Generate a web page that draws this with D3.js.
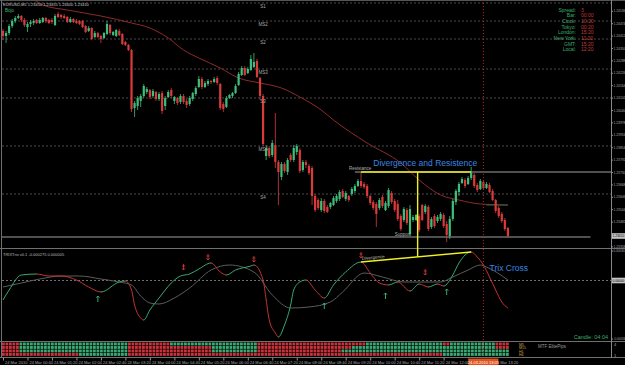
<!DOCTYPE html>
<html>
<head>
<meta charset="utf-8">
<script src="https://cdn.jsdelivr.net/npm/d3@7"></script>
<style>
  body { margin: 0; background: #000; }
  svg { display: block; font-family: "Liberation Sans", Arial, sans-serif; }
</style>
</head>
<body>
<svg id="chart" width="625" height="365"></svg>
<script>
// EURUSD M5 bars
const openP = [
  1.24435,1.24410,1.24425,1.24460,1.24485,1.24500,1.24510,1.24490,1.24455,1.24470,
  1.24475,1.24490,1.24475,1.24480,1.24500,1.24490,1.24490,1.24465,1.24520,1.24515,
  1.24510,1.24505,1.24480,1.24495,1.24485,1.24485,1.24485,1.24460,1.24435,1.24450,
  1.24405,1.24425,1.24410,1.24400,1.24420,1.24465,1.24415,1.24410,1.24435,1.24420,
  1.24380,1.24365,1.24340,1.24050,1.24060,1.24085,1.24110,1.24130,1.24140,1.24110,
  1.24130,1.24095,1.24125,1.24060,1.24105,1.24140,1.24085,1.24100,1.24080,1.24110,
  1.24085,1.24070,1.24095,1.24120,1.24155,1.24195,1.24155,1.24170,1.24185,1.24180,
  1.24200,1.24170,1.24070,1.24055,1.24100,1.24110,1.24125,1.24165,1.24215,1.24250,
  1.24225,1.24240,1.24255,1.24285,1.24200,1.24110,1.23810,1.23850,1.23815,1.23865,
  1.23780,1.23705,1.23770,1.23730,1.23815,1.23790,1.23830,1.23840,1.23740,1.23780,
  1.23760,1.23750,1.23610,1.23590,1.23540,1.23585,1.23555,1.23555,1.23565,1.23585,
  1.23595,1.23635,1.23595,1.23610,1.23620,1.23635,1.23660,1.23685,1.23670,1.23660,
  1.23610,1.23580,1.23570,1.23550,1.23605,1.23540,1.23560,1.23625,1.23585,1.23570,
  1.23510,1.23490,1.23540,1.23420,1.23490,1.23490,1.23510,1.23565,1.23530,1.23555,
  1.23455,1.23510,1.23485,1.23495,1.23515,1.23470,1.23410,1.23495,1.23580,1.23630,
  1.23675,1.23690,1.23670,1.23700,1.23715,1.23665,1.23645,1.23680,1.23650,1.23665,
  1.23635,1.23590,1.23550,1.23520,1.23490,1.23450
];
const highP = [
  1.24445,1.24435,1.24470,1.24495,1.24510,1.24520,1.24515,1.24500,1.24480,1.24490,
  1.24495,1.24495,1.24500,1.24505,1.24505,1.24495,1.24500,1.24520,1.24530,1.24520,
  1.24520,1.24510,1.24505,1.24500,1.24495,1.24490,1.24490,1.24465,1.24460,1.24455,
  1.24435,1.24430,1.24415,1.24430,1.24485,1.24470,1.24435,1.24445,1.24445,1.24425,
  1.24385,1.24370,1.24345,1.24085,1.24110,1.24120,1.24170,1.24155,1.24145,1.24145,
  1.24135,1.24130,1.24135,1.24110,1.24140,1.24150,1.24110,1.24105,1.24120,1.24120,
  1.24095,1.24110,1.24130,1.24160,1.24210,1.24205,1.24185,1.24195,1.24190,1.24205,
  1.24210,1.24175,1.24080,1.24110,1.24120,1.24130,1.24170,1.24230,1.24260,1.24260,
  1.24255,1.24315,1.24325,1.24295,1.24205,1.24120,1.23865,1.23860,1.23890,1.24025,
  1.23790,1.23780,1.23780,1.23800,1.23825,1.23865,1.23870,1.23850,1.23790,1.23790,
  1.23770,1.23760,1.23620,1.23600,1.23600,1.23595,1.23565,1.23580,1.23610,1.23620,
  1.23640,1.23645,1.23635,1.23615,1.23655,1.23670,1.23695,1.23730,1.23680,1.23670,
  1.23615,1.23590,1.23580,1.23600,1.23615,1.23585,1.23650,1.23635,1.23595,1.23590,
  1.23520,1.23555,1.23550,1.23565,1.23515,1.23520,1.23520,1.23570,1.23570,1.23565,
  1.23505,1.23520,1.23515,1.23530,1.23525,1.23485,1.23510,1.23595,1.23645,1.23680,
  1.23705,1.23700,1.23710,1.23755,1.23725,1.23675,1.23695,1.23690,1.23680,1.23675,
  1.23645,1.23595,1.23560,1.23530,1.23500,1.23455
];
const lowP = [
  1.24390,1.24375,1.24415,1.24450,1.24475,1.24495,1.24480,1.24455,1.24430,1.24455,
  1.24465,1.24470,1.24470,1.24475,1.24475,1.24470,1.24470,1.24460,1.24500,1.24495,
  1.24495,1.24475,1.24475,1.24475,1.24470,1.24465,1.24450,1.24425,1.24430,1.24390,
  1.24400,1.24400,1.24375,1.24395,1.24415,1.24415,1.24410,1.24405,1.24410,1.24365,
  1.24360,1.24335,1.24030,1.24005,1.24040,1.24055,1.24100,1.24120,1.24095,1.24100,
  1.24085,1.24085,1.24020,1.24040,1.24100,1.24100,1.24070,1.24065,1.24070,1.24070,
  1.24050,1.24060,1.24085,1.24110,1.24150,1.24145,1.24150,1.24160,1.24170,1.24175,
  1.24165,1.24040,1.24030,1.24050,1.24095,1.24100,1.24120,1.24160,1.24210,1.24210,
  1.24220,1.24235,1.24250,1.24200,1.24090,1.23860,1.23790,1.23800,1.23805,1.23750,
  1.23565,1.23690,1.23725,1.23715,1.23780,1.23780,1.23815,1.23725,1.23730,1.23750,
  1.23715,1.23565,1.23530,1.23540,1.23530,1.23525,1.23525,1.23545,1.23560,1.23575,
  1.23585,1.23600,1.23585,1.23580,1.23610,1.23625,1.23655,1.23650,1.23645,1.23600,
  1.23565,1.23540,1.23455,1.23540,1.23550,1.23535,1.23550,1.23570,1.23530,1.23485,
  1.23435,1.23480,1.23465,1.23410,1.23480,1.23485,1.23430,1.23485,1.23520,1.23435,
  1.23445,1.23450,1.23475,1.23485,1.23450,1.23380,1.23395,1.23485,1.23565,1.23610,
  1.23670,1.23650,1.23665,1.23690,1.23650,1.23630,1.23640,1.23640,1.23645,1.23625,
  1.23585,1.23525,1.23500,1.23475,1.23435,1.23400
];
const closeP = [
  1.24410,1.24425,1.24460,1.24485,1.24500,1.24510,1.24490,1.24465,1.24470,1.24480,
  1.24485,1.24475,1.24490,1.24500,1.24485,1.24475,1.24480,1.24510,1.24505,1.24505,
  1.24500,1.24480,1.24495,1.24480,1.24475,1.24470,1.24455,1.24430,1.24450,1.24395,
  1.24425,1.24405,1.24395,1.24425,1.24470,1.24425,1.24430,1.24440,1.24415,1.24370,
  1.24365,1.24340,1.24045,1.24075,1.24100,1.24110,1.24160,1.24145,1.24105,1.24135,
  1.24095,1.24120,1.24035,1.24100,1.24130,1.24110,1.24105,1.24075,1.24110,1.24080,
  1.24065,1.24100,1.24125,1.24150,1.24195,1.24155,1.24175,1.24185,1.24180,1.24195,
  1.24175,1.24050,1.24045,1.24100,1.24115,1.24125,1.24160,1.24220,1.24250,1.24215,
  1.24245,1.24295,1.24280,1.24205,1.24110,1.23870,1.23850,1.23810,1.23875,1.23780,
  1.23730,1.23770,1.23735,1.23790,1.23790,1.23850,1.23860,1.23735,1.23780,1.23765,
  1.23725,1.23610,1.23540,1.23550,1.23585,1.23535,1.23530,1.23575,1.23600,1.23610,
  1.23630,1.23605,1.23625,1.23590,1.23645,1.23660,1.23685,1.23660,1.23655,1.23610,
  1.23575,1.23550,1.23520,1.23590,1.23560,1.23575,1.23640,1.23580,1.23540,1.23495,
  1.23445,1.23545,1.23475,1.23545,1.23505,1.23515,1.23440,1.23490,1.23560,1.23445,
  1.23495,1.23460,1.23505,1.23520,1.23460,1.23415,1.23495,1.23585,1.23635,1.23670,
  1.23695,1.23660,1.23700,1.23725,1.23660,1.23640,1.23685,1.23650,1.23670,1.23630,
  1.23590,1.23535,1.23510,1.23485,1.23445,1.23410
];

// moving average (bar index, price)
const maBars = [9,13,21,32,42,48,54,59,64,71,77,84,91,97,104,108,119,130,136,143,149,156,165];
const maVals = [1.24605,1.24565,1.24540,1.24510,1.24475,1.24450,1.24400,1.24340,1.24300,1.24250,1.24200,
  1.24175,1.24150,1.24105,1.24040,1.23990,1.23875,1.23775,1.23690,1.23615,1.23590,1.23570,1.23565];
const ma2Bars = [158,165];
const ma2Vals = [1.23565,1.23565];

// pivot levels
const pivotNames = ["S1","MS2","S2","MS3","S3","MS4","S4"];
const pivotLevels = [1.24575,1.24485,1.24395,1.24245,1.24100,1.23860,1.23620];

const resistance = 1.23730;
const support = 1.23405;
const bid = 1.23410;

// TRIX and signal (bar index, value)
const trixBars = [0,2,6,11,15,19,24,28,32,38,40,42,43,45,46,48,51,55,58,61,64,68,71,73,76,81,82,85,86,87,
  89,90,92,94,95,97,99,102,105,108,112,117,120,123,126,129,133,136,139,142,144,147,149,153,155,157,159,161,163,165];
const trixVals = [-0.000195,-0.000095,0.000055,0.000065,0.000045,0.000045,0.000005,-0.000065,-0.000115,-0.000015,
  -0.000005,-0.000095,-0.000245,-0.000375,-0.000395,-0.000295,-0.000175,-0.000025,0.000045,0.000065,
  0.000115,0.000175,0.000085,0.000055,0.000105,0.000145,0.000155,0.000005,-0.000195,-0.000395,
  -0.000525,-0.000565,-0.000445,-0.000245,-0.000095,-0.000015,0.000005,-0.000095,-0.000175,-0.000045,
  0.000085,0.000185,0.000075,-0.000025,-0.000045,-0.000015,-0.000105,-0.000035,-0.000065,-0.000035,
  -0.000055,0.000055,0.000175,0.000285,0.000235,0.000155,0.000035,-0.000095,-0.000215,-0.000275];
const sigBars = [0,6,12,19,25,32,38,42,45,48,51,56,61,68,74,82,88,94,100,107,111,118,124,131,136,143,147,152,156,158,165];
const sigVals = [-0.000065,-0.000025,0.000015,0.000045,0.000045,0.000015,-0.000015,-0.000045,-0.000155,-0.000225,
  -0.000235,-0.000175,-0.000075,0.000105,0.000155,0.000085,-0.000145,-0.000275,-0.000265,-0.000215,
  -0.000115,0.000075,0.000035,-0.000015,-0.000015,-0.000015,0.000035,0.000105,0.000155,0.000135,0.000005];

const downArrowBars = [59,67,82,117,138];
const downArrowVals = [0.000135,0.000235,0.000215,0.000255,0.000085];
const upArrowBars = [31,105,125,145];
const upArrowVals = [-0.000185,-0.000255,-0.000155,-0.000115];

// hand drawn objects
const resLineBars = [117,153];
const vLineBar = 135.5;
const divBars = [117,153];
const divVals = [0.000185,0.000285];
const supportBars = [-1,192];
const resRayBar = 115;
const cursorBar = 157;

// MTF heat strip, run lengths per row (top to bottom)
const heatRows = [
  [["r",5],["g",31],["r",12],["g",25],["r",31],["g",22],["r",2],["g",13],["r",4]],
  [["r",5],["g",31],["r",24],["g",13],["r",27],["g",41],["r",4]],
  [["r",5],["g",31],["r",24],["g",13],["r",24],["g",48]],
  [["r",22],["g",14],["r",90],["g",19]]
];
const mtfNames = ["M5","M15","H1","H4"];

const priceTicks = [1.24536,1.24474,1.24412,1.24350,1.24288,1.24226,1.24164,1.24102,1.24040,1.23978,
  1.23916,1.23854,1.23792,1.23730,1.23668,1.23606,1.23544,1.23482,1.23358];
const trixTicks = [0.0003,-0.00058];
const timeTickBars = [0,8,16,24,32,40,48,56,64,72,80,88,96,104,112,120,128,136,144,152,160];
const timeLabels = ["24 Mar 2010","24 Mar 00:40","24 Mar 01:20","24 Mar 02:00","24 Mar 02:40","24 Mar 03:20",
  "24 Mar 04:00","24 Mar 04:40","24 Mar 05:20","24 Mar 06:00","24 Mar 06:40","24 Mar 07:20","24 Mar 08:00",
  "24 Mar 08:40","24 Mar 09:20","24 Mar 10:00","24 Mar 10:40","24 Mar 11:20","24 Mar 12:00","24 Mar 12:40","24 Mar 13:20"];
const cursorLabel = "24.03.2010 13:05";

const infoNames = ["Spread:","Bar:","Clock:","Tokyo:","London:","New York:","GMT:","Local:"];
const infoValues = ["3","00:00","10:20","00:20","15:20","11:20","15:20","12:20"];

const bars = openP.map((o, i) => ({ i, o, h: highP[i], l: lowP[i], c: closeP[i] }));

const svg = d3.select("#chart");
const W = 611;
const bull = "#3cbf7c", bear = "#d93a3a";

const x = d3.scaleLinear().domain([0, 165]).range([3, 507.9]);
const py = d3.scaleLinear().domain([1.2335, 1.2459]).range([248, 0]);
const ty = d3.scaleLinear().domain([-0.00058, 0.0003]).range([338.5, 250.5]);

svg.append("rect").attr("width", 625).attr("height", 365).attr("fill", "#000");

const defs = svg.append("defs");
defs.append("clipPath").attr("id", "clipMain")
  .append("rect").attr("x", 2).attr("y", 1).attr("width", W - 2).attr("height", 247);
defs.append("clipPath").attr("id", "clipInd")
  .append("rect").attr("x", 2).attr("y", 249).attr("width", W - 2).attr("height", 92);

// frame and separators
const frame = svg.append("g").attr("stroke", "#707070").attr("stroke-width", 1);
frame.append("line").attr("x1", 0).attr("x2", 625).attr("y1", 0.5).attr("y2", 0.5).attr("stroke", "#555");
frame.append("line").attr("x1", 1.5).attr("x2", 1.5).attr("y1", 0).attr("y2", 358);
[248.5, 341.5, 357.5].forEach(yy =>
  frame.append("line").attr("x1", 0).attr("x2", 625).attr("y1", yy).attr("y2", yy));
frame.append("line").attr("x1", W + 0.5).attr("x2", W + 0.5).attr("y1", 0).attr("y2", 358).attr("stroke", "#888");

// ---- main panel ----
const main = svg.append("g").attr("clip-path", "url(#clipMain)");

main.selectAll(".pivot").data(pivotLevels).join("line")
  .attr("class", "pivot")
  .attr("x1", 2).attr("x2", W)
  .attr("y1", d => py(d)).attr("y2", d => py(d))
  .attr("stroke", "#4a4a4a").attr("stroke-dasharray", "2,2");

svg.selectAll(".pivlabel").data(pivotLevels).join("text")
  .attr("class", "pivlabel")
  .attr("x", x(85)).attr("y", d => py(d) + 5)
  .attr("text-anchor", "middle")
  .attr("font-size", 4.5).attr("fill", "#a8a8a8")
  .text((d, i) => pivotNames[i]);

// support / resistance objects
main.append("line")
  .attr("x1", x(supportBars[0])).attr("x2", x(supportBars[1]))
  .attr("y1", py(support)).attr("y2", py(support))
  .attr("stroke", "#a0a0a0");
main.append("line")
  .attr("x1", x(resRayBar)).attr("x2", W)
  .attr("y1", py(resistance)).attr("y2", py(resistance))
  .attr("stroke", "#a0a0a0");

const maLine = d3.line().x(d => x(d[0])).y(d => py(d[1])).curve(d3.curveMonotoneX);
main.append("path")
  .attr("d", maLine(maBars.map((b, i) => [b, maVals[i]])))
  .attr("fill", "none").attr("stroke", "#8e2a2a").attr("stroke-width", 1);
main.append("path")
  .attr("d", maLine(ma2Bars.map((b, i) => [b, ma2Vals[i]])))
  .attr("fill", "none").attr("stroke", "#2e6b40").attr("stroke-width", 1);

const candles = main.append("g");
candles.selectAll("line").data(bars).join("line")
  .attr("x1", d => x(d.i)).attr("x2", d => x(d.i))
  .attr("y1", d => py(d.h)).attr("y2", d => py(d.l))
  .attr("stroke", d => d.c >= d.o ? bull : bear).attr("stroke-width", 0.8);
candles.selectAll("rect").data(bars).join("rect")
  .attr("x", d => x(d.i) - 1.1).attr("width", 2.2)
  .attr("y", d => py(Math.max(d.o, d.c)))
  .attr("height", d => Math.max(0.8, Math.abs(py(d.o) - py(d.c))))
  .attr("fill", d => d.c >= d.o ? bull : bear);

// yellow resistance segment and vertical
const yellow = "#f2f222";
svg.append("line")
  .attr("x1", x(resLineBars[0])).attr("x2", x(resLineBars[1]))
  .attr("y1", py(resistance)).attr("y2", py(resistance))
  .attr("stroke", yellow).attr("stroke-width", 1.4);
const divAt = divVals[0] + (vLineBar - divBars[0]) / (divBars[1] - divBars[0]) * (divVals[1] - divVals[0]);
svg.append("line")
  .attr("x1", x(vLineBar)).attr("x2", x(vLineBar))
  .attr("y1", py(resistance)).attr("y2", ty(divAt))
  .attr("stroke", yellow).attr("stroke-width", 1.4);

svg.append("text").attr("x", x(resRayBar) - 6).attr("y", py(resistance) - 2)
  .attr("font-size", 4.5).attr("fill", "#b0b0b0").text("Resistance");
svg.append("text").attr("x", x(128)).attr("y", py(support) - 1.5)
  .attr("font-size", 4.5).attr("fill", "#b0b0b0").text("Support");

svg.append("text").attr("x", x(121)).attr("y", py(1.23760))
  .attr("font-size", 8.5).attr("fill", "#3a86e0").text("Divergence and Resistence");

// title and info box
svg.append("text").attr("x", 3).attr("y", 5.5).attr("font-size", 4).attr("fill", "#c8c8c8")
  .text("EURUSD,M5  1.23450 1.23455 1.23400 1.23410");
svg.append("text").attr("x", 5).attr("y", 12).attr("font-size", 4.5).attr("fill", "#3cbf7c").text("Bojo");

const info = svg.append("g").attr("font-size", 5);
info.selectAll(".iname").data(infoNames).join("text")
  .attr("class", "iname").attr("x", 576).attr("y", (d, i) => 11.5 + i * 5.7)
  .attr("text-anchor", "end").attr("fill", "#3cae6e").text(d => d);
info.selectAll(".ival").data(infoValues).join("text")
  .attr("class", "ival").attr("x", 581).attr("y", (d, i) => 11.5 + i * 5.7)
  .attr("fill", "#c83a3a").text(d => d);

// ---- TRIX panel ----
const ind = svg.append("g").attr("clip-path", "url(#clipInd)");
ind.append("line").attr("x1", 2).attr("x2", W).attr("y1", ty(0)).attr("y2", ty(0))
  .attr("stroke", "#707070").attr("stroke-dasharray", "2,2");

const tLine = d3.line().x(d => x(d[0])).y(d => ty(d[1])).curve(d3.curveMonotoneX);
ind.append("path")
  .attr("d", tLine(sigBars.map((b, i) => [b, sigVals[i]])))
  .attr("fill", "none").attr("stroke", "#5c5c5c").attr("stroke-width", 1);

const trixPts = trixBars.map((b, i) => [b, trixVals[i]]);
const upClip = defs.append("clipPath").attr("id", "trixUp");
const dnClip = defs.append("clipPath").attr("id", "trixDn");
for (let k = 0; k < trixPts.length - 1; k++) {
  const rising = trixPts[k + 1][1] > trixPts[k][1];
  const x0 = k === 0 ? 0 : x(trixPts[k][0]);
  (rising ? upClip : dnClip).append("rect")
    .attr("x", x0 - 0.3).attr("width", x(trixPts[k + 1][0]) - x0 + 0.6)
    .attr("y", 249).attr("height", 92);
}
const trixPath = tLine(trixPts);
ind.append("path").attr("d", trixPath).attr("clip-path", "url(#trixUp)")
  .attr("fill", "none").attr("stroke", "#3aa872").attr("stroke-width", 1);
ind.append("path").attr("d", trixPath).attr("clip-path", "url(#trixDn)")
  .attr("fill", "none").attr("stroke", "#c23434").attr("stroke-width", 1);

// divergence line
svg.append("line")
  .attr("x1", x(divBars[0])).attr("x2", x(divBars[1]))
  .attr("y1", ty(divVals[0])).attr("y2", ty(divVals[1]))
  .attr("stroke", yellow).attr("stroke-width", 1.4);
const ang = Math.atan2(ty(divVals[1]) - ty(divVals[0]), x(divBars[1]) - x(divBars[0])) * 180 / Math.PI;
svg.append("text")
  .attr("transform", `translate(${x(divBars[0]) + 1},${ty(divVals[0]) - 2}) rotate(${ang})`)
  .attr("font-size", 4.5).attr("fill", "#b8b8b8").text("Divergence");

// signal arrows
const arrows = svg.append("g").attr("stroke-width", 0.9).attr("fill", "none");
downArrowBars.forEach((b, i) => {
  const cx = x(b), cy = ty(downArrowVals[i]);
  arrows.append("path").attr("stroke", "#d03838")
    .attr("d", `M${cx},${cy - 3}V${cy + 3}M${cx - 1.6},${cy + 1.3}L${cx},${cy + 3}L${cx + 1.6},${cy + 1.3}M${cx - 1.5},${cy - 1}H${cx + 1.5}`);
});
upArrowBars.forEach((b, i) => {
  const cx = x(b), cy = ty(upArrowVals[i]);
  arrows.append("path").attr("stroke", "#40b878")
    .attr("d", `M${cx},${cy + 3}V${cy - 3}M${cx - 1.6},${cy - 1.3}L${cx},${cy - 3}L${cx + 1.6},${cy - 1.3}`);
});

svg.append("text").attr("x", x(159)).attr("y", ty(0.000095))
  .attr("font-size", 8.5).attr("fill", "#3a86e0").text("Trix Cross");

svg.append("text").attr("x", 3).attr("y", 256).attr("font-size", 4).attr("fill", "#bdbdbd")
  .text("TRIXTrix v0.1  -0.000275  0.000005");
svg.append("text").attr("x", 608).attr("y", 339).attr("text-anchor", "end")
  .attr("font-size", 5.5).attr("fill", "#3cae6e").text("Candle: 04:04");

// ---- MTF heat strip ----
const hx = d3.scaleLinear().domain([0, 145]).range([2, 509.5]);
const hy = d3.scaleBand().domain(d3.range(heatRows.length)).range([342.5, 356.5]);
const cells = [];
heatRows.forEach((row, r) => {
  let c = 0;
  row.forEach(([state, n]) => {
    for (let j = 0; j < n; j++) cells.push({ r, c: c++, state });
  });
});
svg.append("g").selectAll("rect").data(cells).join("rect")
  .attr("x", d => hx(d.c)).attr("y", d => hy(d.r))
  .attr("width", hx(1) - hx(0) - 0.7).attr("height", hy.bandwidth() - 0.6)
  .attr("fill", d => d.state === "g" ? "#3aa872" : "#c8323a");

svg.selectAll(".mtf").data(mtfNames).join("text")
  .attr("class", "mtf").attr("x", 519).attr("y", (d, i) => hy(i) + 3)
  .attr("font-size", 3.6).attr("fill", "#d2a24a").text(d => d);
svg.append("text").attr("x", 538).attr("y", 348).attr("font-size", 4.5).attr("fill", "#9a9a9a").text("MTF ElitePips");

// current-bar marker
svg.append("line")
  .attr("x1", x(cursorBar)).attr("x2", x(cursorBar)).attr("y1", 0).attr("y2", 357)
  .attr("stroke", "#b02828").attr("stroke-dasharray", "1,2");

// ---- axes ----
function styleAxis(g, size) {
  g.select(".domain").remove();
  g.selectAll(".tick line").attr("stroke", "#909090");
  g.selectAll(".tick text").attr("fill", "#a8a8a8").attr("font-size", size)
    .attr("font-family", "Liberation Sans, Arial, sans-serif");
}

svg.append("g").attr("transform", `translate(${W + 0.5},0)`)
  .call(d3.axisRight(py).tickValues(priceTicks).tickFormat(d3.format(".5f")).tickSize(1.5).tickPadding(0.5))
  .call(g => styleAxis(g, 3.3));

svg.append("g").attr("transform", `translate(${W + 0.5},0)`)
  .call(d3.axisRight(ty).tickValues(trixTicks).tickFormat(d => d.toFixed(5)).tickSize(1.5).tickPadding(0.5))
  .call(g => styleAxis(g, 3.1));

// highlighted axis labels
[[py(bid), d3.format(".5f")(bid)], [ty(0), "0.00000"]].forEach(([yy, txt]) => {
  svg.append("rect").attr("x", W + 1).attr("y", yy - 2.8).attr("width", 13).attr("height", 5.6).attr("fill", "#c4c4c4");
  svg.append("text").attr("x", W + 1.4).attr("y", yy + 1.3).attr("font-size", 3.3).attr("fill", "#000").text(txt);
});

svg.append("text").attr("x", 614).attr("y", hy(0) + 3).attr("font-size", 4).attr("fill", "#a8a8a8").text("4");
svg.append("text").attr("x", 614).attr("y", hy(3) + 3.5).attr("font-size", 4).attr("fill", "#a8a8a8").text("1");

// time axis, the cursor label box hides whatever lies under it
const cx0 = x(cursorBar);
const boxL = cx0 - 15, boxR = cx0 + 15;
const tClip = defs.append("clipPath").attr("id", "clipTime");
tClip.append("rect").attr("x", 0).attr("y", 356).attr("width", boxL).attr("height", 9);
tClip.append("rect").attr("x", boxR).attr("y", 356).attr("width", 625 - boxR).attr("height", 9);

const tAxis = svg.append("g").attr("clip-path", "url(#clipTime)")
  .append("g").attr("transform", "translate(0,357.5)")
  .call(d3.axisBottom(x).tickValues(timeTickBars).tickFormat((d, i) => timeLabels[i]).tickSize(3).tickPadding(1))
  .call(g => styleAxis(g, 4));
tAxis.selectAll(".tick text").attr("text-anchor", "start").attr("dx", 1.5);

svg.append("rect").attr("x", boxL).attr("y", 358.5).attr("width", 30).attr("height", 6.5).attr("fill", "#e2521c");
svg.append("text").attr("x", cx0).attr("y", 363.5).attr("text-anchor", "middle")
  .attr("font-size", 4).attr("fill", "#fff").text(cursorLabel);
</script>
</body>
</html>
